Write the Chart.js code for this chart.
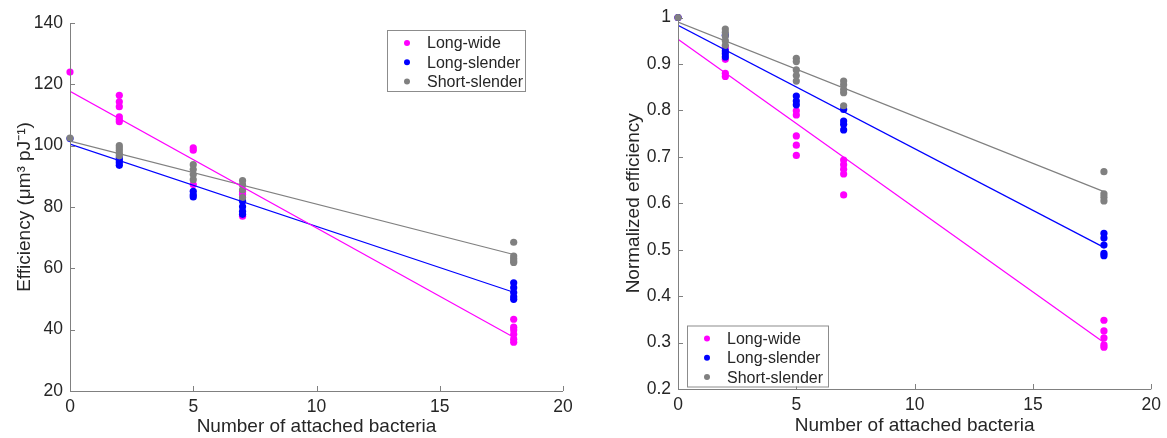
<!DOCTYPE html>
<html>
<head>
<meta charset="utf-8">
<script src="https://cdn.jsdelivr.net/npm/chart.js@4.4.1/dist/chart.umd.min.js"></script>
<style>
  html, body { margin: 0; padding: 0; background: #ffffff; }
  #left-box { position: absolute; left: 0; top: 0; width: 580px; height: 438px; }
  #right-box { position: absolute; left: 585px; top: 0; width: 582px; height: 438px; }
</style>
</head>
<body>
<div id="left-box"><canvas id="efficiency-chart"></canvas></div>
<div id="right-box"><canvas id="normalized-chart"></canvas></div>
<script>
const bacteriaCounts = [0, 2, 5, 7, 18];
const seriesLabels = ['Long-wide', 'Long-slender', 'Short-slender'];
const seriesColors = ['#ff00ff', '#0000ff', '#808080'];

// efficiency (um^3 pJ^-1), one list per bacteria count
const longWideEff = [[124], [116.4, 114.3, 112.7, 109.4, 108.5, 107.8], [99.3, 98.5, 87.3], [85.0, 84.1, 77.0], [43.4, 40.8, 39.9, 38.5, 36.9, 35.9]];
const longSlenderEff = [[102.3], [96.0, 95.2, 94.4, 93.6], [85.1, 84.0, 83.3], [81.9, 80.1, 78.6, 77.6], [55.3, 53.7, 52.1, 50.7, 49.9]];
const shortSlenderEff = [[102.5], [100.0, 99.2, 98.4, 97.5, 96.7], [93.8, 92.2, 90.6, 88.9], [88.6, 87.2, 85.6, 83.1], [68.5, 64.0, 63.2, 62.4, 61.9]];
// linear fits, value at 0 and at 18
const effFitEnds = [[117.7, 37.5], [100.5, 52.2], [101.5, 64.5]];

// normalized efficiency
const longWideNorm = [[1.0], [0.935, 0.910, 0.880, 0.873], [0.799, 0.790, 0.745, 0.725, 0.703], [0.693, 0.683, 0.673, 0.663, 0.618], [0.348, 0.325, 0.310, 0.295, 0.290]];
const longSlenderNorm = [[1.0], [0.962, 0.928, 0.922, 0.915], [0.831, 0.820, 0.812], [0.802, 0.777, 0.770, 0.758], [0.535, 0.525, 0.510, 0.492, 0.487]];
const shortSlenderNorm = [[1.0], [0.975, 0.968, 0.960, 0.950, 0.940], [0.912, 0.905, 0.887, 0.875, 0.863], [0.863, 0.855, 0.845, 0.838, 0.810], [0.668, 0.620, 0.613, 0.605]];
const normFitEnds = [[0.953, 0.300], [0.983, 0.505], [0.990, 0.625]];

const fitRange = [0, 18];
const effTicks = [20, 40, 60, 80, 100, 120, 140];
const normTicks = [0.2, 0.3, 0.4, 0.5, 0.6, 0.7, 0.8, 0.9, 1];
const countTicks = [0, 5, 10, 15, 20];

const FONT = 'Helvetica, Arial, "Liberation Sans", sans-serif';
const TEXT = '#262626';
const AXIS = '#808080';

function toPoints(groups) {
  return groups.flatMap((vals, i) => vals.map(v => ({ x: bacteriaCounts[i], y: v })));
}

function buildDatasets(groupsList, fits) {
  const sets = [];
  groupsList.forEach((groups, i) => {
    sets.push({
      type: 'scatter',
      label: seriesLabels[i],
      data: toPoints(groups),
      backgroundColor: seriesColors[i],
      borderColor: seriesColors[i],
      pointRadius: 3.6,
      pointBorderWidth: 0,
      order: 3 - i + 1,
      clip: false,
    });
  });
  fits.forEach((ends, i) => {
    sets.push({
      type: 'line',
      label: seriesLabels[i] + ' fit',
      data: fitRange.map((x, k) => ({ x: x, y: ends[k] })),
      borderColor: seriesColors[i],
      borderWidth: 1.2,
      pointRadius: 0,
      fill: false,
      order: 0,
    });
  });
  return sets;
}

// MATLAB style axes: left and bottom lines with inward ticks
const matlabAxes = {
  id: 'matlabAxes',
  afterDraw(chart) {
    const { ctx, chartArea: a, scales } = chart;
    ctx.save();
    ctx.strokeStyle = AXIS;
    ctx.lineWidth = 1;
    ctx.beginPath();
    ctx.moveTo(a.left + 0.5, a.top);
    ctx.lineTo(a.left + 0.5, a.bottom + 0.5);
    ctx.lineTo(a.right, a.bottom + 0.5);
    scales.x.ticks.forEach(t => {
      const px = Math.round(scales.x.getPixelForValue(t.value)) + 0.5;
      ctx.moveTo(px, a.bottom);
      ctx.lineTo(px, a.bottom - 5);
    });
    scales.y.ticks.forEach(t => {
      const py = Math.round(scales.y.getPixelForValue(t.value)) + 0.5;
      ctx.moveTo(a.left, py);
      ctx.lineTo(a.left + 5, py);
    });
    ctx.stroke();
    ctx.restore();
  }
};

const insideLegend = {
  id: 'insideLegend',
  afterDraw(chart, args, opts) {
    const { ctx, chartArea: a } = chart;
    const bx = a.left + opts.x, by = a.top + opts.y;
    ctx.save();
    ctx.fillStyle = '#ffffff';
    ctx.fillRect(bx, by, opts.width, opts.height);
    ctx.strokeStyle = '#8c8c8c';
    ctx.lineWidth = 1;
    ctx.strokeRect(bx + 0.5, by + 0.5, opts.width, opts.height);
    ctx.font = '16px ' + FONT;
    ctx.textBaseline = 'middle';
    ctx.fillStyle = TEXT;
    seriesLabels.forEach((label, i) => {
      const cy = by + 13 + i * 19.3;
      ctx.beginPath();
      ctx.fillStyle = seriesColors[i];
      ctx.arc(bx + 20, cy, 3, 0, Math.PI * 2);
      ctx.fill();
      ctx.fillStyle = TEXT;
      ctx.fillText(label, bx + 40, cy + 1);
    });
    ctx.restore();
  }
};

function makeChart(canvasId, groupsList, fits, yTicks, yTitle, geo) {
  return new Chart(document.getElementById(canvasId), {
    type: 'scatter',
    data: { datasets: buildDatasets(groupsList, fits) },
    options: {
      responsive: true,
      maintainAspectRatio: false,
      animation: false,
      layout: { padding: { top: geo.top, right: geo.right, bottom: 0, left: 0 } },
      plugins: {
        legend: { display: false },
        tooltip: { enabled: false },
        insideLegend: geo.legend,
      },
      scales: {
        x: {
          type: 'linear',
          min: 0,
          max: 20,
          afterBuildTicks: s => { s.ticks = countTicks.map(v => ({ value: v })); },
          afterFit: s => { s.height = geo.xHeight; },
          grid: { display: false, drawTicks: false, tickLength: 0 },
          border: { display: false },
          ticks: { color: TEXT, font: { size: 17.5, family: FONT }, padding: 6, maxRotation: 0 },
          title: {
            display: true,
            text: 'Number of attached bacteria',
            color: TEXT,
            font: { size: 19, family: FONT },
            padding: { top: 0, bottom: geo.xTitlePad },
          },
        },
        y: {
          type: 'linear',
          min: yTicks[0],
          max: yTicks[yTicks.length - 1],
          afterBuildTicks: s => { s.ticks = yTicks.map(v => ({ value: v })); },
          afterFit: s => { s.width = geo.yWidth; },
          grid: { display: false, drawTicks: false, tickLength: 0 },
          border: { display: false },
          ticks: {
            color: TEXT,
            font: { size: 17.5, family: FONT },
            padding: 7,
            callback: v => String(Number(v.toFixed(1))),
          },
          title: {
            display: true,
            text: yTitle,
            color: TEXT,
            font: { size: 19, family: FONT },
            padding: { top: geo.yTitlePad, bottom: 0 },
          },
        },
      },
    },
    plugins: [matlabAxes, insideLegend],
  });
}

makeChart('efficiency-chart', [longWideEff, longSlenderEff, shortSlenderEff], effFitEnds, effTicks,
  'Efficiency (\u03bcm\u00b3 pJ\u207b\u00b9)',
  { top: 23, right: 17, xHeight: 47, yWidth: 70, xTitlePad: 0, yTitlePad: 13, 
    legend: { x: 317, y: 7, width: 138, height: 61 } });

makeChart('normalized-chart', [longWideNorm, longSlenderNorm, shortSlenderNorm], normFitEnds, normTicks,
  'Normalized efficiency',
  { top: 14, right: 12, xHeight: 49, yWidth: 93, xTitlePad: 1, yTitlePad: 37,
    legend: { x: 9, y: 308, width: 141, height: 61 } });
</script>
</body>
</html>
